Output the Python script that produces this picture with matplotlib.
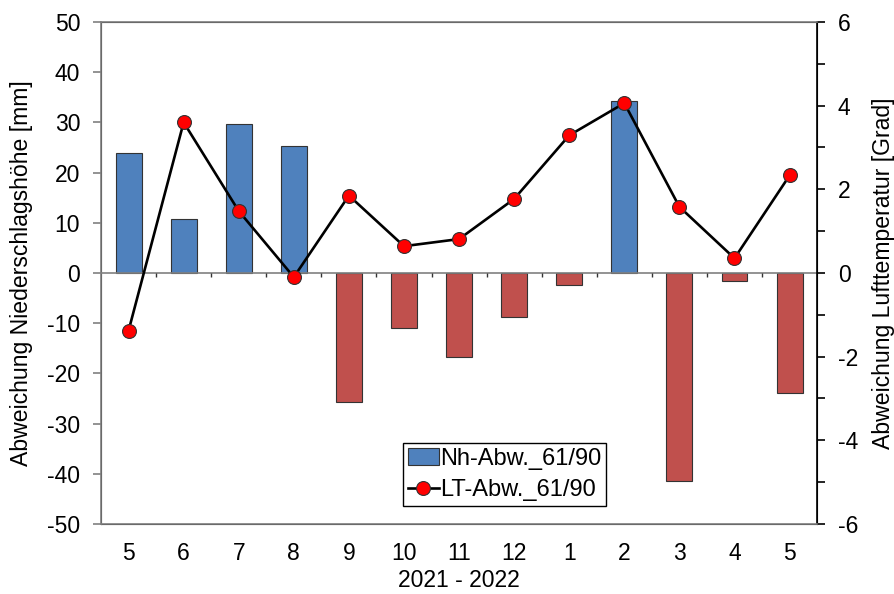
import numpy as np
import matplotlib.pyplot as plt
from matplotlib.ticker import MultipleLocator

plt.rcParams['font.family'] = ['Liberation Sans', 'DejaVu Sans']
plt.rcParams['axes.unicode_minus'] = False

# Monthly deviations from the 1961/90 reference period
months = ['5', '6', '7', '8', '9', '10', '11', '12', '1', '2', '3', '4', '5']
nh_abw = [23.9, 10.8, 29.6, 25.3, -25.8, -11.0, -16.7, -8.8, -2.5, 34.3, -41.5, -1.6, -24.0]
lt_abw = [-1.38, 3.60, 1.48, -0.10, 1.85, 0.64, 0.81, 1.77, 3.29, 4.06, 1.58, 0.35, 2.33]

x = np.arange(len(months))
bar_colors = ['#4F81BD' if v >= 0 else '#C0504D' for v in nh_abw]
grey = '#808080'
fs_tick = 16.5
fs_label = 16.6
fs_legend = 17

fig = plt.figure(figsize=(8.94, 5.94), dpi=100)
ax = fig.add_axes([0.113, 0.118, 0.801, 0.845])
ax2 = ax.twinx()

bars = ax.bar(x, nh_abw, width=0.47, color=bar_colors, edgecolor='#333333', linewidth=0.8,
              label='Nh-Abw._61/90', zorder=2)
ax.axhline(0, color=grey, lw=1.2, zorder=3)
# category separators on the zero line
ax.vlines(x[:-1] + 0.5, -0.9, 0, color='#333333', lw=1.0, zorder=3)

line, = ax2.plot(x, lt_abw, color='black', lw=1.9, marker='o', markersize=10,
                 markerfacecolor='#FF0000', markeredgecolor='#333333', markeredgewidth=0.8,
                 label='LT-Abw._61/90', zorder=4)

ax.set_xlim(-0.5, len(months) - 0.5)
ax.set_ylim(-50, 50)
ax.yaxis.set_major_locator(MultipleLocator(10))
ax2.set_ylim(-6, 6)
ax2.yaxis.set_major_locator(MultipleLocator(2))
ax2.yaxis.set_minor_locator(MultipleLocator(1))

ax.set_xticks(x)
ax.set_xticklabels(months)
ax.tick_params(axis='x', length=0, pad=13, labelsize=fs_tick)
ax.tick_params(axis='y', direction='out', length=6, width=1.2, color=grey, pad=9, labelsize=fs_tick)
ax2.tick_params(axis='y', which='major', direction='out', length=6, width=1.2, pad=9, labelsize=fs_tick)
ax2.tick_params(axis='y', which='minor', direction='out', length=6, width=1.2)

for sp in ['left', 'top', 'bottom']:
    ax2.spines[sp].set_color(grey)
    ax2.spines[sp].set_linewidth(1.2)
ax2.spines['right'].set_color('black')
ax2.spines['right'].set_linewidth(1.2)

ax.set_ylabel('Abweichung Niederschlagshöhe [mm]', fontsize=fs_label, labelpad=10)
ax2.set_ylabel('Abweichung Lufttemperatur [Grad]', fontsize=fs_label, labelpad=10)
ax.set_xlabel('2021 - 2022', fontsize=fs_tick, labelpad=3)

ax2.set_zorder(ax.get_zorder() + 1)
ax2.patch.set_visible(False)

leg = ax2.legend([bars, line], ['Nh-Abw._61/90', 'LT-Abw._61/90'], loc='lower left',
                 bbox_to_anchor=(0.422, 0.036), frameon=True, fancybox=False,
                 edgecolor='black', framealpha=1, fontsize=fs_legend, borderpad=0.2,
                 handlelength=1.3, handletextpad=0.05, labelspacing=0.4, borderaxespad=0)
leg.get_frame().set_linewidth(1.0)

fig.savefig('out.png', dpi=100)
